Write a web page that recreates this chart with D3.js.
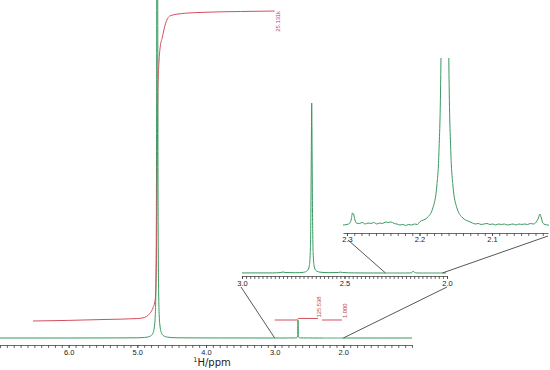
<!DOCTYPE html>
<html>
<head>
<meta charset="utf-8">
<script src="https://cdn.jsdelivr.net/npm/d3@7"></script>
<style>
body { margin: 0; background: #fff; }
svg { display: block; }
.tick text { font-family: "Liberation Sans", sans-serif; font-size: 7.5px; fill: #222; }
</style>
</head>
<body>
<div id="chart"></div>
<script>
// 1H spectrum, [shift (ppm), intensity (a.u.)]
var spectrum = [
    [7.00, 0], [6.00, 0.05], [5.60, 0.25], [5.30, 0.5], [5.00, 1.1], [4.93, 2.2], [4.856, 5],
    [4.797, 14], [4.768, 31], [4.754, 56], [4.739, 122], [4.732, 222], [4.7246, 500], [4.717, 2000],
    [4.71, 9000],
    [4.703, 2000], [4.6954, 500], [4.688, 222], [4.681, 122], [4.666, 56], [4.652, 31], [4.623, 14],
    [4.564, 5], [4.49, 2.2], [4.42, 1.1], [4.10, 0.5], [3.80, 0.25], [3.30, 0.1], [3.00, 0.05],
    [2.85, 0.05], [2.81, 0.3], [2.80, 0.6], [2.79, 0.3], [2.74, 0.15], [2.70, 0.4], [2.68, 1.5],
    [2.672, 4], [2.667, 12], [2.664, 35], [2.662, 70], [2.66, 100], [2.658, 70], [2.656, 35],
    [2.653, 12], [2.648, 4], [2.64, 1.5], [2.62, 0.5], [2.58, 0.2], [2.53, 0.3], [2.52, 0.5],
    [2.51, 0.3], [2.45, 0.05], [2.36, 0.01],
    [2.306, 0.0025], [2.300, 0.0038], [2.296, 0.0075], [2.294, 0.0175], [2.2925, 0.0325], [2.291, 0.03],
    [2.289, 0.015], [2.287, 0.0075], [2.283, 0.0063], [2.279, 0.0088], [2.275, 0.005], [2.271, 0.0075],
    [2.267, 0.0063], [2.263, 0.0088], [2.259, 0.005], [2.255, 0.0075], [2.251, 0.0063], [2.247, 0.01],
    [2.243, 0.0088], [2.239, 0.01], [2.235, 0.0063], [2.231, 0.005], [2.227, 0.0025], [2.223, 0.0038],
    [2.219, 0.0013], [2.215, 0.0038], [2.211, 0.0025], [2.207, 0.005], [2.203, 0.0038],
    [2.1995, 0.0105], [2.1898, 0.02], [2.1816, 0.045], [2.176, 0.1025], [2.1733, 0.18], [2.1705, 0.405],
    [2.1691, 0.7225], [2.165, 0.9], [2.1609, 0.7225], [2.1595, 0.405], [2.1567, 0.18], [2.154, 0.1025],
    [2.1484, 0.045], [2.1402, 0.02], [2.1305, 0.0105], [2.127, 0.0075], [2.123, 0.005], [2.119, 0.0063],
    [2.115, 0.0038], [2.111, 0.005], [2.107, 0.0063], [2.103, 0.0038], [2.099, 0.005], [2.095, 0.0025],
    [2.091, 0.005], [2.087, 0.0038], [2.083, 0.005], [2.079, 0.0025], [2.075, 0.0038], [2.071, 0.005],
    [2.067, 0.0025], [2.063, 0.005], [2.059, 0.0038], [2.055, 0.005], [2.051, 0.0038], [2.047, 0.0063],
    [2.043, 0.005], [2.039, 0.01], [2.036, 0.02], [2.034, 0.03], [2.032, 0.02], [2.030, 0.0075],
    [2.027, 0.0038], [2.023, 0.0025], [2.02, 0.0013],
    [2.00, 0], [1.50, 0], [1.00, 0]
];

// running integrals, [shift (ppm), cumulative area]
var waterIntegral = [
    [6.52, 0], [6.0, 50], [5.5, 120], [5.0, 200], [4.92, 250], [4.82, 600], [4.77, 1100],
    [4.74, 1700], [4.725, 4000], [4.71, 12500], [4.70, 19000], [4.685, 21000], [4.665, 22300],
    [4.64, 22900], [4.60, 23900], [4.52, 24750], [4.30, 24950], [4.0, 25030], [3.5, 25090], [3.0, 25131]
];
var integralA = [[3.0, 0], [2.675, 0], [2.665, 40], [2.66, 85], [2.655, 125.538], [2.37, 125.538]];
var integralB = [[2.31, 0], [2.02, 1.0]];
var integralLabels = ["25.131k", "125.538", "1.000"];

var mainLabels = [6.0, 5.0, 4.0, 3.0, 2.0];
var zoom1Labels = [3.0, 2.5, 2.0];
var zoom2Labels = [2.3, 2.2, 2.1];

function init(){
    var w = 550;
    var h = 370;
    var green = "#38995f";
    var red = "#d34f5e";
    var grey = "#444";

    var svg = d3.select("#chart")
                .append("svg")
                .attr("width", w)
                .attr("height", h);
    var defs = svg.append("defs");

    // scales for the full spectrum and both expansions
    var xMain = d3.scaleLinear().domain([7.0, 1.0]).range([0, 412]);
    var yMain = d3.scaleLinear().domain([0, 1878]).range([338, 0]);
    var x1 = d3.scaleLinear().domain([3.0, 2.0]).range([242, 447]);
    var y1 = d3.scaleLinear().domain([0, 100]).range([273, 103]);
    var x2 = d3.scaleLinear().domain([2.3055, 2.0228]).range([343, 548]);
    var y2 = d3.scaleLinear().domain([0, 0.42]).range([226, 58]);

    var drawSpectrum = function(x, y, id, box){
        defs.append("clipPath").attr("id", id)
            .append("rect")
            .attr("x", box[0]).attr("y", box[1])
            .attr("width", box[2]).attr("height", box[3]);

        var line = d3.line()
                    .x(function(d) { return x(d[0]); })
                    .y(function(d) { return y(d[1]); })
                    .curve(d3.curveMonotoneX);

        svg.append("path")
            .datum(spectrum)
            .attr("clip-path", "url(#" + id + ")")
            .attr("d", line)
            .attr("fill", "none")
            .attr("stroke", green)
            .attr("stroke-width", 1);
    }

    var drawAxis = function(x, yPos, minor, labels, pad){
        var g = svg.append("g").attr("transform", `translate(0,${yPos})`);
        g.call(d3.axisBottom(x).tickValues(minor).tickSize(3).tickSizeOuter(0).tickFormat(""));
        g.append("g")
            .call(d3.axisBottom(x).tickValues(labels).tickSize(3).tickPadding(pad).tickFormat(d3.format(".1f")))
            .select(".domain").remove();
        g.selectAll("path, line").attr("stroke", grey).attr("stroke-width", 0.8);
    }

    drawSpectrum(xMain, yMain, "clipMain", [0, 0, 412, 345]);
    drawSpectrum(x1, y1, "clipZoom1", [242, 90, 204, 186]);
    drawSpectrum(x2, y2, "clipZoom2", [343, 58, 206, 172]);

    drawAxis(xMain, 345, d3.range(10, 71).map(function(d) { return d / 10; }), mainLabels, 2);
    drawAxis(x1, 276, d3.range(100, 151).map(function(d) { return d / 50; }), zoom1Labels, 2);
    drawAxis(x2, 233, d3.range(203, 231).map(function(d) { return d / 100; }), zoom2Labels, 1);

    // connector lines between the panels
    var links = [
        [[xMain(3.0), yMain(0)], [x1(3.0) - 1, 287]],
        [[xMain(2.0), yMain(0)], [x1(2.0), 287]],
        [[x1(2.3), y1(0)], [x2(2.3) + 1, 240]],
        [[x1(2.0228), y1(0)], [x2(2.0228), 236]]
    ];
    svg.selectAll(".link")
        .data(links)
        .enter()
        .append("line")
        .attr("class", "link")
        .attr("x1", function(d) { return d[0][0]; })
        .attr("y1", function(d) { return d[0][1]; })
        .attr("x2", function(d) { return d[1][0]; })
        .attr("y2", function(d) { return d[1][1]; })
        .attr("stroke", grey)
        .attr("stroke-width", 0.9);

    // integrals share one vertical scale
    var k = 310 / 25131;
    var integrals = [
        { data: waterIntegral, base: 321, label: integralLabels[0], anchor: "end", dx: 3, dy: 0 },
        { data: integralA, base: 320, label: integralLabels[1], anchor: "start", dx: 1.5, dy: -1 },
        { data: integralB, base: 320, label: integralLabels[2], anchor: "start", dx: 3.5, dy: -2 }
    ];
    integrals.forEach(function(it){
        var line = d3.line()
                    .x(function(d) { return xMain(d[0]); })
                    .y(function(d) { return it.base - d[1] * k; })
                    .curve(d3.curveMonotoneX);
        svg.append("path")
            .datum(it.data)
            .attr("d", line)
            .attr("fill", "none")
            .attr("stroke", red)
            .attr("stroke-width", 1);

        var last = it.data[it.data.length - 1];
        var lx = xMain(last[0]) + it.dx;
        var ly = it.base - last[1] * k + it.dy;
        svg.append("text")
            .attr("transform", `translate(${lx},${ly}) rotate(-90)`)
            .attr("text-anchor", it.anchor)
            .attr("dominant-baseline", "central")
            .attr("font-family", "Liberation Sans, sans-serif")
            .attr("font-size", "5.8px")
            .attr("fill", "#c0394a")
            .text(it.label);
    });

    // axis title
    var title = svg.append("text")
        .attr("x", 212)
        .attr("y", 366)
        .attr("text-anchor", "middle")
        .attr("font-family", "DejaVu Sans, sans-serif")
        .attr("font-size", "10px")
        .attr("fill", "#222");
    title.append("tspan").attr("font-size", "6.5px").attr("dy", -4).text("1");
    title.append("tspan").attr("dy", 4).text("H/ppm");
}
window.onload = init;
</script>
</body>
</html>
